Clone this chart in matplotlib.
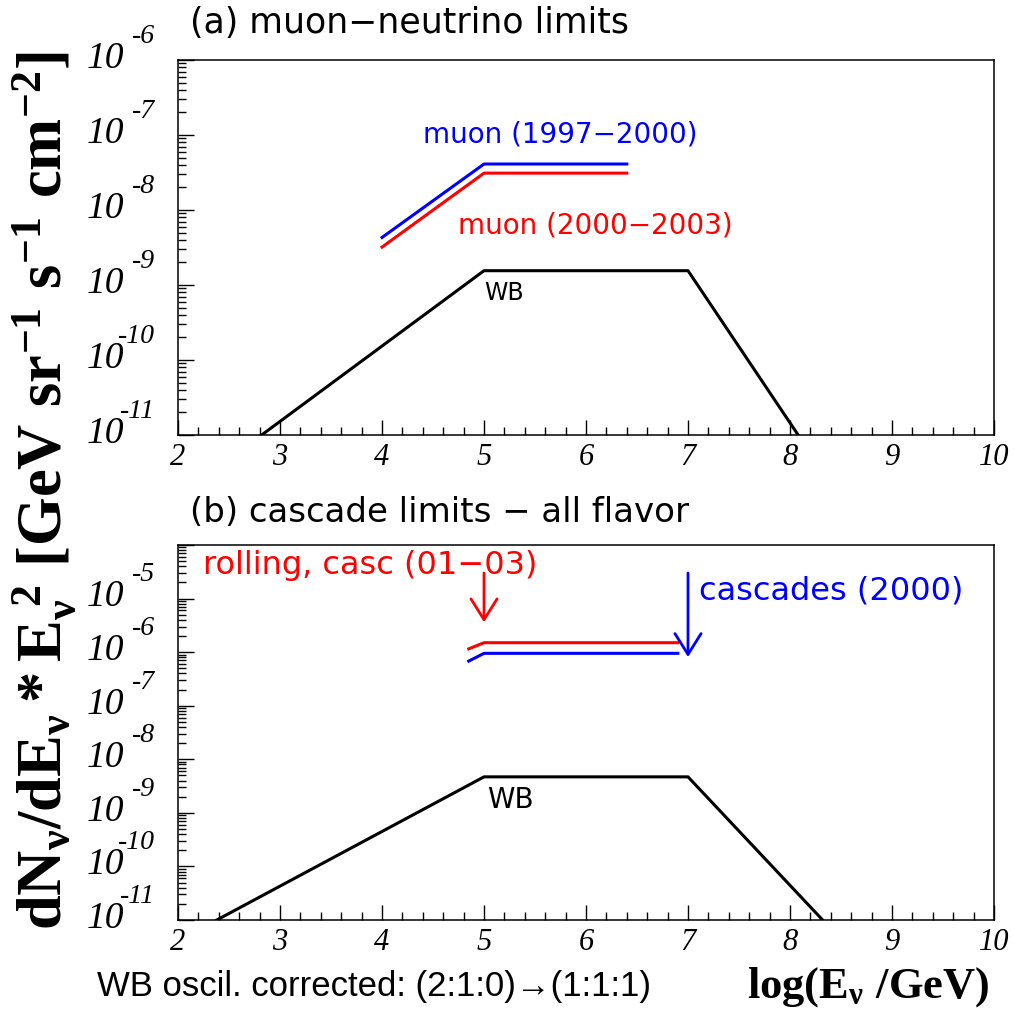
import numpy as np
import matplotlib
matplotlib.use('Agg')
import matplotlib.pyplot as plt
from matplotlib.ticker import MultipleLocator, LogLocator, NullFormatter

# tick labels in ROOT style: italic serif
plt.rcParams['font.family'] = 'Liberation Serif'
plt.rcParams['font.style'] = 'italic'
plt.rcParams['mathtext.fontset'] = 'custom'
plt.rcParams['mathtext.rm'] = 'Liberation Serif:style=normal:weight=bold'
plt.rcParams['mathtext.bf'] = 'Liberation Serif:style=normal:weight=bold'
plt.rcParams['mathtext.it'] = 'Liberation Serif:style=normal:weight=bold'

# --- data (log10 E/GeV, E^2 dN/dE) ---
# (a) muon neutrino limits
wb_a_x = [2.82, 5.0, 7.0, 8.08]
wb_a_y = [1e-11, 1.55e-9, 1.55e-9, 1e-11]
muon9700_x = [4.0, 5.0, 6.4]
muon9700_y = [4.3e-9, 4.1e-8, 4.1e-8]
muon0003_x = [4.0, 5.0, 6.4]
muon0003_y = [3.2e-9, 3.1e-8, 3.1e-8]

# (b) cascade limits, all flavor
wb_b_x = [2.38, 5.0, 7.0, 8.32]
wb_b_y = [1e-11, 4.7e-9, 4.7e-9, 1e-11]
rolling_x = [4.85, 5.0, 6.9]
rolling_y = [1.15e-6, 1.5e-6, 1.5e-6]
casc2000_x = [4.85, 5.0, 6.9]
casc2000_y = [6.8e-7, 9.5e-7, 9.5e-7]

# arrows: x, tail, tip
rolling_arrow = (5.0, 3.0e-5, 3.6e-6)
casc2000_arrow = (7.0, 3.0e-5, 8.1e-7)

xticks = [2, 3, 4, 5, 6, 7, 8, 9, 10]
decades_a = [-6, -7, -8, -9, -10, -11]
decades_b = [-5, -6, -7, -8, -9, -10, -11]

sans = ['DejaVu Sans']
serif = 'Liberation Serif'

fig = plt.figure(figsize=(10.15, 10.13), dpi=100)
ax1 = fig.add_axes([0.1754, 0.5706, 0.8039, 0.3702])
ax2 = fig.add_axes([0.1754, 0.0918, 0.8039, 0.3702])


def style_axes(ax, ymin, ymax, decades):
    ax.set_xlim(2, 10)
    ax.set_yscale('log')
    ax.set_ylim(ymin, ymax)
    ax.set_xticks(xticks)
    ax.set_xticklabels([str(t) for t in xticks])
    ax.xaxis.set_minor_locator(MultipleLocator(0.2))
    ax.yaxis.set_major_locator(LogLocator(base=10, numticks=20))
    ax.yaxis.set_minor_locator(LogLocator(base=10, subs=np.arange(2, 10), numticks=20))
    ax.yaxis.set_major_formatter(NullFormatter())
    ax.yaxis.set_minor_formatter(NullFormatter())
    ax.tick_params(which='both', direction='in', top=False, right=False, width=1.0)
    ax.tick_params(axis='x', which='major', length=11, pad=6, labelsize=22)
    ax.tick_params(axis='x', which='minor', length=5.5)
    ax.tick_params(axis='y', which='major', length=11.5)
    ax.tick_params(axis='y', which='minor', length=5.5)
    for s in ax.spines.values():
        s.set_linewidth(1.1)
    for d in decades:
        ax.annotate('10', xy=(0, 10.0 ** d), xycoords=('axes fraction', 'data'),
                    xytext=(-39, 1), textcoords='offset points', ha='right', va='center',
                    fontsize=27, fontfamily=serif, fontstyle='italic')
        ax.annotate(str(d), xy=(0, 10.0 ** d), xycoords=('axes fraction', 'data'),
                    xytext=(-16.5, 17), textcoords='offset points', ha='right', va='center',
                    fontsize=20, fontfamily=serif, fontstyle='italic')


style_axes(ax1, 1e-11, 1e-6, decades_a)
style_axes(ax2, 1e-11, 1e-4, decades_b)

# panel (a)
ax1.plot(wb_a_x, wb_a_y, color='black', lw=2.2)
ax1.plot(muon9700_x, muon9700_y, color='blue', lw=2.2)
ax1.plot(muon0003_x, muon0003_y, color='red', lw=2.2)
ax1.text(5.745, 1e-7, 'muon (1997\u22122000)', color='blue', fontsize=20,
         family=sans, style='normal', ha='center', va='center')
ax1.text(6.09, 6.3e-9, 'muon (2000\u22122003)', color='red', fontsize=20,
         family=sans, style='normal', ha='center', va='center')
ax1.text(5.2, 7.8e-10, 'WB', color='black', fontsize=17, family=sans,
         style='normal', ha='center', va='center')

# panel (b)
ax2.plot(wb_b_x, wb_b_y, color='black', lw=2.2)
ax2.plot(rolling_x, rolling_y, color='red', lw=2.2)
ax2.plot(casc2000_x, casc2000_y, color='blue', lw=2.2)
for (ax_x, tail, tip), col in [(rolling_arrow, 'red'), (casc2000_arrow, 'blue')]:
    ax2.annotate('', xy=(ax_x, tip), xytext=(ax_x, tail),
                 arrowprops=dict(arrowstyle='->,head_length=0.75,head_width=0.47',
                                 color=col, lw=2.0, shrinkA=0, shrinkB=0,
                                 mutation_scale=20))
ax2.text(3.88, 4.2e-5, 'rolling, casc (01\u221203)', color='red', fontsize=23,
         family=sans, style='normal', ha='center', va='center')
ax2.text(8.40, 1.38e-5, 'cascades (2000)', color='blue', fontsize=23,
         family=sans, style='normal', ha='center', va='center')
ax2.text(5.26, 1.74e-9, 'WB', color='black', fontsize=20, family=sans,
         style='normal', ha='center', va='center')

# titles and axis labels
fig.text(0.187, 0.977, '(a) muon\u2212neutrino limits', fontsize=25, family=sans,
         style='normal', ha='left', va='center')
fig.text(0.187, 0.4936, '(b) cascade limits \u2212 all flavor', fontsize=24.5, family=sans,
         style='normal', ha='left', va='center')
fig.text(0.044, 0.516,
         r'$\mathbf{dN_{\nu}/dE_{\nu}*E_{\nu}^{\ 2}\ [GeV\ sr^{-1}\ s^{-1}\ cm^{-2}]}$',
         rotation=90, fontsize=45, ha='center', va='center')
fig.text(0.975, 0.0148, r'$\mathbf{log(E_{\nu}\ /GeV)}$', fontsize=32,
         ha='right', va='baseline')
fig.text(0.0956, 0.0257, 'WB oscil. corrected: (2:1:0)\u2192(1:1:1)', fontsize=25,
         family=['Liberation Sans', 'DejaVu Sans'], style='normal', ha='left', va='center')

fig.savefig('out.png', dpi=100)
